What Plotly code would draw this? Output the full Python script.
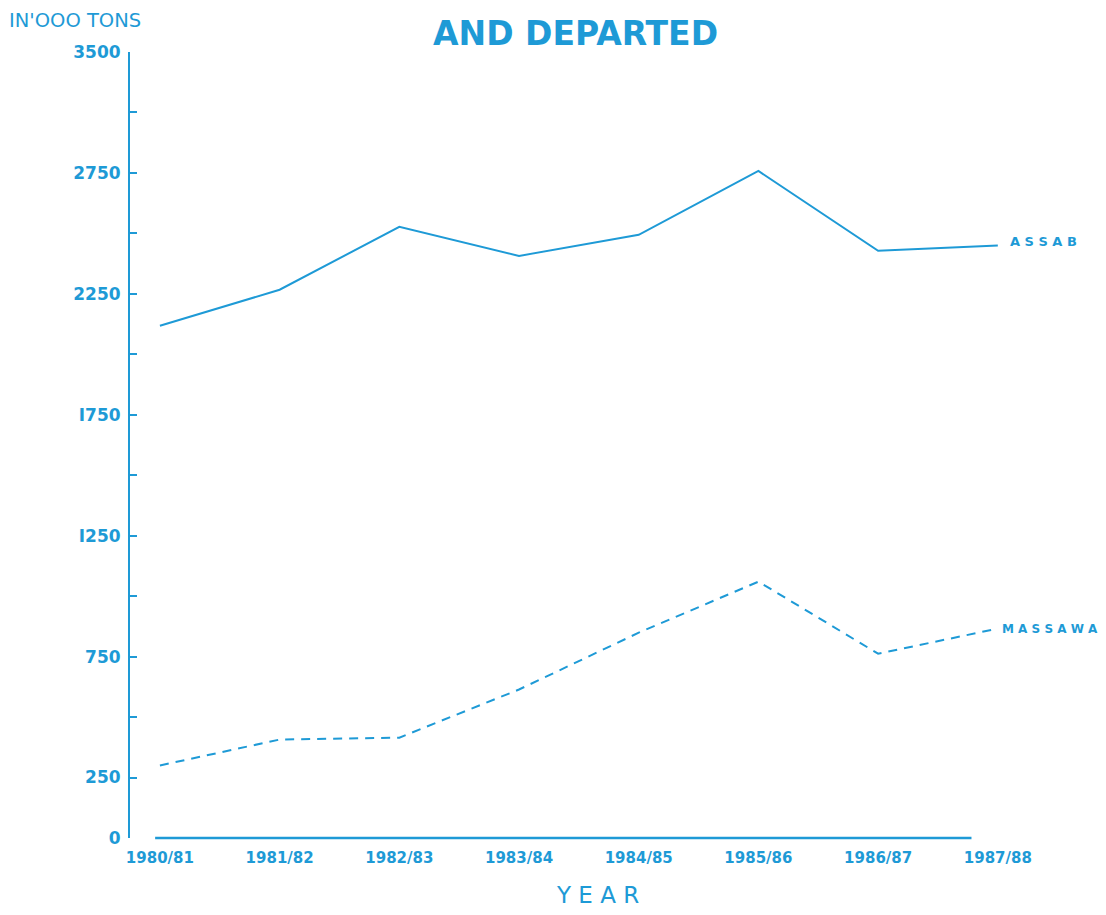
import plotly.graph_objects as go

years = ["1980/81", "1981/82", "1982/83", "1983/84", "1984/85", "1985/86", "1986/87", "1987/88"]
assab = [2118, 2267, 2527, 2407, 2494, 2758, 2428, 2450]
massawa = [300, 407, 415, 614, 849, 1060, 762, 866]

y_tickvals = [0, 250, 750, 1250, 1750, 2250, 2750, 3250]
y_ticktext = ["0", "250", "750", "I250", "I750", "2250", "2750", "3500"]
y_minor = [500, 1000, 1500, 2000, 2500, 3000]

BLUE = "#1e9ad6"
FONT = "DejaVu Sans"

idx = list(range(len(years)))

fig = go.Figure()
fig.add_trace(go.Scatter(x=idx, y=assab, mode="lines", line=dict(color=BLUE, width=2),
                         name="ASSAB", showlegend=False, cliponaxis=False))
fig.add_trace(go.Scatter(x=idx, y=massawa, mode="lines", line=dict(color=BLUE, width=2, dash="9px,7px"),
                         name="MASSAWA", showlegend=False, cliponaxis=False))

fig.add_annotation(x=idx[-1], y=assab[-1], text="<b>A S S A B</b>", showarrow=False,
                   xanchor="left", xshift=10, yshift=4,
                   font=dict(family=FONT, size=13, color=BLUE))
fig.add_annotation(x=idx[-1], y=massawa[-1], text="<b>M A S S A W A</b>", showarrow=False,
                   xanchor="left", xshift=2, yshift=0,
                   font=dict(family=FONT, size=12, color=BLUE))

# x-axis baseline
fig.add_shape(type="line", xref="x", yref="paper", x0=-0.04, x1=6.78, y0=0, y1=0,
              line=dict(color=BLUE, width=2.5))

fig.update_layout(
    width=1090, height=899,
    margin=dict(l=122, r=93, t=44, b=68.5),
    paper_bgcolor="white", plot_bgcolor="white",
    font=dict(family=FONT, color=BLUE),
    annotations=list(fig.layout.annotations) + [
        dict(text="<b>AND DEPARTED</b>", xref="paper", yref="paper", x=0.5, y=1.0,
             xanchor="center", yanchor="middle", yshift=19, xshift=8, showarrow=False,
             font=dict(family=FONT, size=33, color=BLUE)),
        dict(text="IN'OOO TONS", xref="paper", yref="paper", x=0, y=1.0,
             xanchor="left", yanchor="middle", xshift=-123, yshift=32, showarrow=False,
             font=dict(family=FONT, size=19.5, color=BLUE)),
        dict(text="Y E A R", xref="paper", yref="paper", x=0.5, y=0,
             xanchor="center", yanchor="bottom", xshift=30, yshift=-72, showarrow=False,
             font=dict(family=FONT, size=23, color=BLUE)),
    ],
)

fig.update_xaxes(
    range=[-0.25, 7.06], tickvals=idx, ticktext=[f"<b>{y}</b>" for y in years],
    showgrid=False, zeroline=False, showline=False, ticks="", ticklabelstandoff=9,
    tickfont=dict(family=FONT, size=15, color=BLUE),
)
fig.update_yaxes(
    range=[0, 3250], tickvals=y_tickvals, ticktext=[f"<b>{t}</b>" for t in y_ticktext],
    showgrid=False, zeroline=False, showline=True, linecolor=BLUE, linewidth=2,
    ticks="inside", ticklen=7, tickwidth=2, tickcolor=BLUE, ticklabelstandoff=4,
    tickfont=dict(family=FONT, size=17, color=BLUE),
    minor=dict(tickvals=y_minor, ticks="inside", ticklen=7, tickwidth=2, tickcolor=BLUE),
)

fig.write_html("out.html")
